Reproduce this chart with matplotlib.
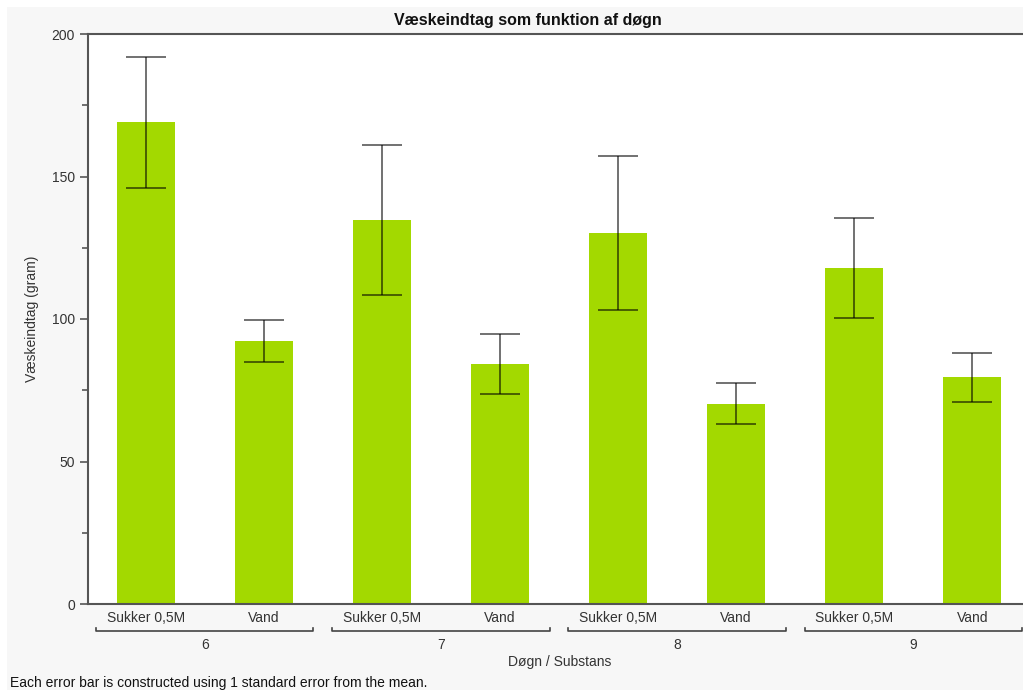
import matplotlib
matplotlib.use("Agg")
import matplotlib.pyplot as plt
import matplotlib.transforms as mtransforms
from matplotlib.patches import Rectangle
from matplotlib.ticker import MultipleLocator

# Data
days = ["6", "7", "8", "9"]
substances = ["Sukker 0,5M", "Vand"]
means = [169.0, 92.3, 134.7, 84.2, 130.2, 70.2, 117.9, 79.6]
std_errors = [23.0, 7.4, 26.2, 10.5, 27.0, 7.2, 17.5, 8.6]

bar_color = "#a3d900"
grey_bg = "#f7f7f7"
spine_color = "#555555"

plt.rcParams["font.family"] = ["Liberation Sans", "DejaVu Sans"]

fig = plt.figure(figsize=(10.23, 6.9), dpi=100, facecolor="white")
# light grey panel with a thin white margin at top/left (behind the axes)
fig.patches.append(Rectangle((7 / 1023, 0), 1, (690 - 7) / 690,
                             transform=fig.transFigure, facecolor=grey_bg,
                             edgecolor="none", zorder=-1))

ax = fig.add_axes([88 / 1023, 86 / 690, (1023 - 88) / 1023, 570 / 690])
ax.set_facecolor("white")

positions = list(range(len(means)))
ax.bar(positions, means, width=0.49, color=bar_color, zorder=2)
ax.errorbar(positions, means, yerr=std_errors, fmt="none", ecolor="black",
            alpha=0.6, elinewidth=1.3, capsize=14.5, capthick=1.3, zorder=3)

ax.set_xlim(-0.49, 7.43)
ax.set_ylim(0, 200)
ax.yaxis.set_major_locator(MultipleLocator(50))
ax.yaxis.set_minor_locator(MultipleLocator(25))
ax.tick_params(axis="y", which="major", length=6, width=1.2, color=spine_color,
               labelsize=10, labelcolor="#333333")
ax.tick_params(axis="y", which="minor", length=4, width=1.2, color=spine_color)

sub_labels = [s for _ in days for s in substances]
ax.set_xticks(positions)
ax.set_xticklabels(sub_labels, fontsize=10, color="#333333")
ax.tick_params(axis="x", length=0, pad=5)

for side in ["left", "bottom", "top"]:
    ax.spines[side].set_color(spine_color)
    ax.spines[side].set_linewidth(1.5)
ax.spines["right"].set_visible(False)

ax.set_ylabel("Væskeindtag (gram)", fontsize=10, color="#333333", labelpad=9)

# group brackets under the substance labels
trans = mtransforms.blended_transform_factory(ax.transData, ax.transAxes)
n_sub = len(substances)
for i, day in enumerate(days):
    center = i * n_sub + (n_sub - 1) / 2
    x0, x1 = center - 0.92, center + 0.92
    yb = -0.048
    ax.plot([x0, x0, x1, x1], [yb + 0.006, yb, yb, yb + 0.006], transform=trans,
            color="#444444", linewidth=1.2, clip_on=False)
    ax.text(center, -0.072, day, transform=trans, ha="center", va="center",
            fontsize=10, color="#333333")

ax.text(0.505, -0.102, "Døgn / Substans", transform=ax.transAxes,
        ha="center", va="center", fontsize=10, color="#333333")

fig.text(0.516, 1 - 20 / 690, "Væskeindtag som funktion af døgn",
         ha="center", va="center", fontsize=11.5, fontweight="bold", color="#111111")
fig.text(10 / 1023, 1 - 683 / 690, "Each error bar is constructed using 1 standard error from the mean.",
         ha="left", va="center", fontsize=10, color="#111111")

fig.savefig("out.png", dpi=100, facecolor=fig.get_facecolor())
